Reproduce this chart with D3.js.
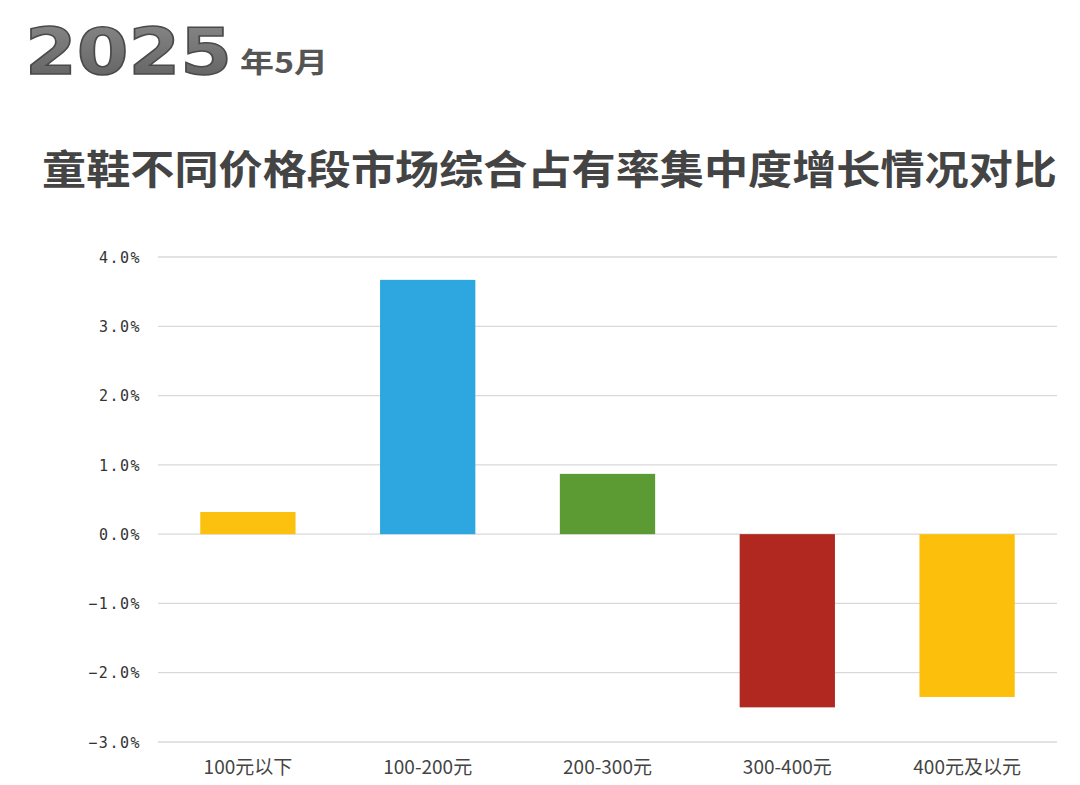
<!DOCTYPE html>
<html><head><meta charset="utf-8">
<script src="https://cdn.jsdelivr.net/npm/d3@7"></script>
<style>body{margin:0;background:#fff}</style>
</head><body><svg id="c" width="1080" height="785"></svg>
<script>
const categories = ["100元以下","100-200元","200-300元","300-400元","400元及以元"];
const values = [0.32, 3.67, 0.87, -2.50, -2.35];
const colors = ["#FBC10E","#2EA7E0","#5C9A33","#B0281F","#FCC00C"];
const yTicks = [4,3,2,1,0,-1,-2,-3];

const svg = d3.select("#c");
const defs = svg.append("defs");
const g1 = defs.append("linearGradient").attr("id","yg").attr("x1",0).attr("y1",0).attr("x2",0).attr("y2",1);
g1.append("stop").attr("offset","0%").attr("stop-color","#8a8a8a");
g1.append("stop").attr("offset","100%").attr("stop-color","#5e5e5e");

svg.append("text").attr("x",25).attr("y",74).attr("font-family","'DejaVu Sans'").attr("font-weight","bold")
  .attr("font-size",64).attr("textLength",207).attr("lengthAdjust","spacingAndGlyphs")
  .attr("fill","url(#yg)").attr("stroke","#4a4a4a").attr("stroke-width",1.5).text("2025");
svg.append("text").attr("x",240).attr("y",73).attr("font-family","'Noto Sans CJK SC'").attr("font-weight","bold")
  .attr("font-size",28).attr("textLength",88).attr("lengthAdjust","spacingAndGlyphs")
  .attr("fill","#555").text("年5月");

svg.append("text").attr("x",42).attr("y",184).attr("font-family","'Noto Sans CJK SC'").attr("font-weight","bold")
  .attr("font-size",40).attr("textLength",1015).attr("lengthAdjust","spacingAndGlyphs")
  .attr("fill","#444").text("童鞋不同价格段市场综合占有率集中度增长情况对比");

const x = d3.scaleBand().domain(categories).range([158,1057]).paddingInner(0.47).paddingOuter(0.235);
const y = d3.scaleLinear().domain([-3,4]).range([742,257]);

const grid = svg.append("g");
grid.selectAll("line").data(yTicks).join("line")
  .attr("x1",158).attr("x2",1057).attr("y1",d=>y(d)).attr("y2",d=>y(d))
  .attr("stroke","#d9d9d9").attr("stroke-width",1.3);

const yAxis = d3.axisLeft(y).tickValues(yTicks).tickSize(0).tickPadding(0).tickFormat(d=>d3.format(".1f")(d)+"%");
const ya = svg.append("g").attr("transform","translate(141,0)").call(yAxis);
ya.select(".domain").remove();
ya.selectAll("text").attr("font-family","'DejaVu Sans Mono'").attr("font-size",15).attr("letter-spacing","1.5px")
  .attr("fill","#333").attr("dy","0.35em");

svg.append("g").selectAll("rect").data(values).join("rect")
  .attr("x",(d,i)=>x(categories[i])).attr("width",x.bandwidth())
  .attr("y",d=>y(Math.max(0,d))).attr("height",d=>Math.abs(y(d)-y(0)))
  .attr("fill",(d,i)=>colors[i]);

const xAxis = d3.axisBottom(x).tickSize(0).tickPadding(0);
const xa = svg.append("g").attr("transform","translate(0,760)").call(xAxis);
xa.select(".domain").remove();
xa.selectAll("text").attr("font-family","'Noto Sans CJK SC'").attr("font-size",19).attr("fill","#444");
</script></body></html>
